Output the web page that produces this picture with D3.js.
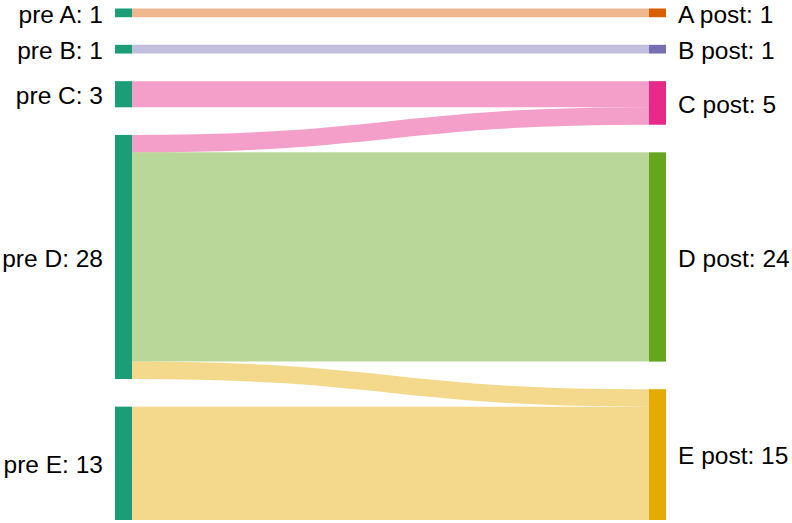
<!DOCTYPE html>
<html>
<head>
<meta charset="utf-8">
<script src="https://cdn.jsdelivr.net/npm/d3@7"></script>
<style>
  html, body { margin: 0; padding: 0; background: #fff; }
  svg { display: block; }
  text { font-family: "Liberation Sans", Arial, Helvetica, sans-serif; font-size: 24.5px; fill: #000; }
</style>
</head>
<body>
<div id="chart"></div>
<script>
var WIDTH = 792, HEIGHT = 523;

// nodes of the two columns
var sourceNames = ["pre A", "pre B", "pre C", "pre D", "pre E"];
var targetNames = ["A post", "B post", "C post", "D post", "E post"];

// flows: source index -> target index
var linkSource = [0, 1, 2, 3, 3, 3, 4];
var linkTarget = [0, 1, 2, 2, 3, 4, 4];
var linkValue  = [1, 1, 3, 2, 24, 2, 13];

var LAYOUT = {
    x0: 115,
    x1: 666,
    y0: 8.5,
    y1: 520,
    nodeWidth: 17,
    nodePadding: 27.6,
    labelGap: 12,
    linkOpacity: 0.45
};

var colors = d3.schemeDark2;

function buildColumn(names, side, links) {
    var nodes = names.map(function (name, i) {
        var ls = links.filter(function (l) { return (side === "left" ? l.source : l.target) === i; });
        return { name: name, index: i, side: side, value: d3.sum(ls, function (l) { return l.value; }) };
    });
    return nodes;
}

function computeLayout() {
    var links = linkValue.map(function (v, i) {
        return { source: linkSource[i], target: linkTarget[i], value: v };
    });
    var left = buildColumn(sourceNames, "left", links);
    var right = buildColumn(targetNames, "right", links);

    [left, right].forEach(function (col) {
        var total = d3.sum(col, function (d) { return d.value; });
        var ky = d3.scaleLinear()
            .domain([0, total])
            .range([0, LAYOUT.y1 - LAYOUT.y0 - (col.length - 1) * LAYOUT.nodePadding]);
        var y = LAYOUT.y0;
        col.forEach(function (n) {
            n.y0 = y;
            n.y1 = y + ky(n.value);
            n.ky = ky;
            y = n.y1 + LAYOUT.nodePadding;
            if (n.side === "left") {
                n.x0 = LAYOUT.x0;
                n.x1 = LAYOUT.x0 + LAYOUT.nodeWidth;
            } else {
                n.x0 = LAYOUT.x1 - LAYOUT.nodeWidth;
                n.x1 = LAYOUT.x1;
            }
        });
    });

    links.forEach(function (l) {
        l.source = left[l.source];
        l.target = right[l.target];
        l.width = l.source.ky(l.value);
    });

    // stack links on each node, ordered by the node at the other end
    left.forEach(function (n) {
        var y = n.y0;
        links.filter(function (l) { return l.source === n; })
            .sort(function (a, b) { return a.target.y0 - b.target.y0; })
            .forEach(function (l) { l.ys = y + l.width / 2; y += l.width; });
    });
    right.forEach(function (n) {
        var y = n.y0;
        links.filter(function (l) { return l.target === n; })
            .sort(function (a, b) { return a.source.y0 - b.source.y0; })
            .forEach(function (l) { l.yt = y + l.width / 2; y += l.width; });
    });

    return { nodes: left.concat(right), links: links };
}

function nodeColor(d) {
    return d.side === "left" ? colors[0] : colors[d.index + 1];
}

function drawSankey() {
    var graph = computeLayout();

    var svg = d3.select("#chart").append("svg")
        .attr("width", WIDTH)
        .attr("height", HEIGHT);

    var linkPath = d3.linkHorizontal()
        .source(function (d) { return [d.source.x1, d.ys]; })
        .target(function (d) { return [d.target.x0, d.yt]; });

    svg.append("g")
        .attr("fill", "none")
        .attr("stroke-opacity", LAYOUT.linkOpacity)
        .selectAll("path")
        .data(graph.links)
        .join("path")
        .attr("d", linkPath)
        .attr("stroke", function (d) { return nodeColor(d.target); })
        .attr("stroke-width", function (d) { return Math.max(1, d.width); });

    svg.append("g")
        .selectAll("rect")
        .data(graph.nodes)
        .join("rect")
        .attr("x", function (d) { return d.x0; })
        .attr("y", function (d) { return d.y0; })
        .attr("width", function (d) { return d.x1 - d.x0; })
        .attr("height", function (d) { return d.y1 - d.y0; })
        .attr("fill", nodeColor);

    svg.append("g")
        .selectAll("text")
        .data(graph.nodes)
        .join("text")
        .attr("x", function (d) { return d.side === "left" ? d.x0 - LAYOUT.labelGap : d.x1 + LAYOUT.labelGap; })
        .attr("y", function (d) { return (d.y0 + d.y1) / 2; })
        .attr("dy", "0.4em")
        .attr("text-anchor", function (d) { return d.side === "left" ? "end" : "start"; })
        .text(function (d) { return d.name + ": " + d.value; });
}

drawSankey();
</script>
</body>
</html>
